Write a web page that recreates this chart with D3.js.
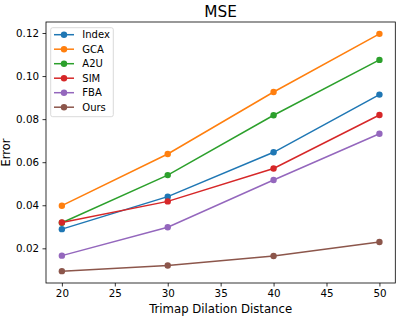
<html>
<head>
<script src="https://cdn.jsdelivr.net/npm/d3@7"></script>
<style>
  body { margin: 0; background: #fff; }
  text { font-family: "DejaVu Sans", sans-serif; }
</style>
</head>
<body>
<script>
// data
var distances = [20, 30, 40, 50];
var names = ["Index", "GCA", "A2U", "SIM", "FBA", "Ours"];
var colors = ["#1f77b4", "#ff7f0e", "#2ca02c", "#d62728", "#9467bd", "#8c564b"];
var indexVals = [0.0289, 0.0440, 0.0646, 0.0914];
var gcaVals = [0.0398, 0.0638, 0.0926, 0.1196];
var a2uVals = [0.0319, 0.0540, 0.0818, 0.1075];
var simVals = [0.0320, 0.0418, 0.0571, 0.0819];
var fbaVals = [0.0166, 0.0298, 0.0517, 0.0732];
var oursVals = [0.0094, 0.0120, 0.0164, 0.0229];
var xTicks = [20, 25, 30, 35, 40, 45, 50];
var yTicks = [0.02, 0.04, 0.06, 0.08, 0.10, 0.12];

var series = [indexVals, gcaVals, a2uVals, simVals, fbaVals, oursVals];

var w = 399, h = 317;
var margin = {left: 46, right: 3.7, top: 22, bottom: 34};

var svg = d3.select("body").append("svg")
    .attr("width", w)
    .attr("height", h);

/* domains with matplotlib-like 5% padding */
var xmin = d3.min(distances), xmax = d3.max(distances);
var xpad = (xmax - xmin) * 0.05;
var all = [].concat.apply([], series);
var ymin = d3.min(all), ymax = d3.max(all);
var ypad = (ymax - ymin) * 0.05;

var x = d3.scaleLinear()
    .domain([xmin - xpad, xmax + xpad])
    .range([margin.left, w - margin.right]);
var y = d3.scaleLinear()
    .domain([ymin - ypad, ymax + ypad])
    .range([h - margin.bottom, margin.top]);

/* axes */
var xAxis = svg.append("g")
    .attr("transform", "translate(0," + (h - margin.bottom) + ")")
    .call(d3.axisBottom(x).tickValues(xTicks).tickSize(3.5).tickPadding(3.5).tickFormat(d3.format("d")));
var yAxis = svg.append("g")
    .attr("transform", "translate(" + margin.left + ",0)")
    .call(d3.axisLeft(y).tickValues(yTicks).tickSize(3.5).tickPadding(3.5).tickFormat(d3.format(".2f")));

[xAxis, yAxis].forEach(function(a) {
  a.select(".domain").remove();
  a.selectAll("line").attr("stroke", "#000").attr("stroke-width", 0.8);
  a.selectAll("text").attr("fill", "#000").style("font-size", "10.3px");
});

/* frame */
svg.append("rect")
    .attr("x", margin.left)
    .attr("y", margin.top)
    .attr("width", w - margin.right - margin.left)
    .attr("height", h - margin.bottom - margin.top)
    .attr("fill", "none")
    .attr("stroke", "#000")
    .attr("stroke-width", 0.8);

/* lines and points */
var line = d3.line()
    .x(function(d, i) { return x(distances[i]); })
    .y(function(d) { return y(d); });

series.forEach(function(vals, k) {
  var g = svg.append("g");
  g.append("path")
      .attr("d", line(vals))
      .attr("fill", "none")
      .attr("stroke", colors[k])
      .attr("stroke-width", 1.5);
  g.selectAll("circle")
      .data(vals)
      .enter()
      .append("circle")
      .attr("cx", function(d, i) { return x(distances[i]); })
      .attr("cy", function(d) { return y(d); })
      .attr("r", 3.2)
      .attr("fill", colors[k]);
});

/* title and labels */
svg.append("text")
    .attr("x", (margin.left + w - margin.right) / 2)
    .attr("y", 17)
    .attr("text-anchor", "middle")
    .style("font-size", "15.3px")
    .text("MSE");

svg.append("text")
    .attr("x", (margin.left + w - margin.right) / 2)
    .attr("y", 312.5)
    .attr("text-anchor", "middle")
    .style("font-size", "11.7px")
    .text("Trimap Dilation Distance");

svg.append("text")
    .attr("transform", "translate(9.8," + ((margin.top + h - margin.bottom) / 2) + ") rotate(-90)")
    .attr("text-anchor", "middle")
    .style("font-size", "11.4px")
    .text("Error");

/* legend */
var lg = svg.append("g").attr("transform", "translate(50.7,27.7)");
lg.append("rect")
    .attr("width", 62.6)
    .attr("height", 89)
    .attr("rx", 2)
    .attr("fill", "#fff")
    .attr("fill-opacity", 0.8)
    .attr("stroke", "#d0d0d0")
    .attr("stroke-width", 0.8);

names.forEach(function(n, k) {
  var yy = 7 + k * 14.5;
  lg.append("line")
      .attr("x1", 3.3).attr("x2", 23.3)
      .attr("y1", yy).attr("y2", yy)
      .attr("stroke", colors[k])
      .attr("stroke-width", 1.5);
  lg.append("circle")
      .attr("cx", 13.3).attr("cy", yy).attr("r", 3.2)
      .attr("fill", colors[k]);
  lg.append("text")
      .attr("x", 31.6)
      .attr("y", yy + 3.6)
      .style("font-size", "10px")
      .text(n);
});
</script>
</body>
</html>
